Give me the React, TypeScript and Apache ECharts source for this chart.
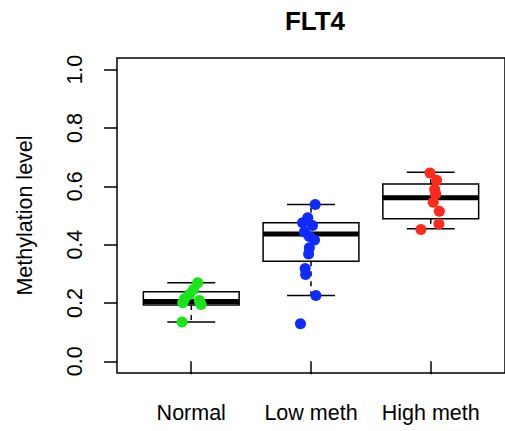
import React, { useEffect, useRef } from "react";
import * as echarts from "echarts";

const categories = ["Normal", "Low meth", "High meth"];
const yTicks = [0, 0.2, 0.4, 0.6, 0.8, 1.0];
const xTicks = [1, 2, 3];

// box statistics: lower whisker, Q1, median, Q3, upper whisker
const boxLow = [0.1346, 0.226, 0.4545];
const boxQ1 = [0.193, 0.3435, 0.4887];
const boxMedian = [0.2055, 0.437, 0.5606];
const boxQ3 = [0.2387, 0.475, 0.608];
const boxHigh = [0.2695, 0.5377, 0.648];

// individual samples and their horizontal jitter (category units)
const normalValues = [0.2695, 0.2466, 0.2295, 0.2158, 0.201, 0.2089, 0.1952, 0.1346];
const normalJitter = [0.054, 0.019, -0.016, -0.055, -0.071, 0.068, 0.082, -0.077];
const lowValues = [0.5377, 0.492, 0.475, 0.466, 0.4435, 0.428, 0.416, 0.389, 0.368, 0.318, 0.298, 0.226, 0.129];
const lowJitter = [0.035, -0.027, -0.07, 0.012, -0.055, -0.014, 0.029, -0.014, -0.02, -0.049, -0.045, 0.041, -0.088];
const highValues = [0.646, 0.621, 0.589, 0.574, 0.5455, 0.5147, 0.471, 0.452];
const highJitter = [-0.006, 0.049, 0.033, 0.041, 0.021, 0.072, 0.068, -0.082];

const groupColors = ["#19e619", "#0f2bff", "#ff2a1a"];
const FONT = "'Liberation Sans', Arial, Helvetica, sans-serif";

export default function App() {
  const ref = useRef<HTMLDivElement>(null);
  useEffect(() => {
    if (!ref.current) return;
    const chart = echarts.init(ref.current, null, { renderer: "svg" });
    const groups = [
      [normalValues, normalJitter],
      [lowValues, lowJitter],
      [highValues, highJitter],
    ];
    const scatterSeries = groups.map(([vals, jit], gi) => ({
      type: "scatter",
      name: categories[gi],
      symbol: "circle",
      symbolSize: 11,
      z: 5,
      itemStyle: { color: groupColors[gi], opacity: 1 },
      data: (vals as number[]).map((v, k) => [gi + 1 + (jit as number[])[k], v]),
    }));
    const boxData = categories.map((_, i) => [i + 1, boxLow[i], boxQ1[i], boxMedian[i], boxQ3[i], boxHigh[i]]);
    const option: any = {
      animation: false,
      textStyle: { fontFamily: FONT },
      grid: {
        left: 117,
        right: -7,
        top: 58,
        bottom: 58,
        show: true,
        borderColor: "#000",
        borderWidth: 1.5,
        backgroundColor: "transparent",
      },
      xAxis: {
        type: "value",
        min: 0.38,
        max: 3.62,
        splitLine: { show: false },
        axisLine: { show: false },
        axisTick: {
          show: true,
          customValues: xTicks,
          length: 13,
          inside: false,
          lineStyle: { color: "#000", width: 1.5 },
        },
        axisLabel: {
          customValues: xTicks,
          formatter: (v: number) => categories[Math.round(v) - 1],
          fontSize: 21.5,
          color: "#000",
          margin: 29,
          fontFamily: FONT,
        },
      },
      yAxis: {
        type: "value",
        min: -0.04,
        max: 1.04,
        splitLine: { show: false },
        axisLine: { show: false },
        axisTick: {
          show: true,
          customValues: yTicks,
          length: 13,
          inside: false,
          lineStyle: { color: "#000", width: 1.5 },
        },
        axisLabel: {
          customValues: yTicks,
          formatter: (v: number) => v.toFixed(1),
          rotate: 90,
          fontSize: 21.5,
          color: "#000",
          margin: 31,
          fontFamily: FONT,
        },
        name: "Methylation level",
        nameLocation: "middle",
        nameRotate: 90,
        nameGap: 81,
        nameTextStyle: { fontSize: 21.5, color: "#000", fontFamily: FONT },
      },
      graphic: [
        {
          type: "text",
          x: 315,
          y: 21,
          style: {
            text: "FLT4",
            font: `bold 26px ${FONT}`,
            fill: "#000",
            textAlign: "center",
            textVerticalAlign: "middle",
          },
        },
      ],
      series: [
        {
          type: "custom",
          z: 2,
          encode: { x: 0, y: [1, 2, 3, 4, 5] },
          data: boxData,
          renderItem: (params: any, api: any) => {
            const x = api.value(0);
            const lo = api.coord([x, api.value(1)]);
            const q1 = api.coord([x, api.value(2)]);
            const med = api.coord([x, api.value(3)]);
            const q3 = api.coord([x, api.value(4)]);
            const hi = api.coord([x, api.value(5)]);
            const halfW = api.coord([x + 0.4, 0])[0] - lo[0];
            const capHalf = halfW / 2;
            const cx = lo[0];
            const solid = { stroke: "#000", lineWidth: 1.5, fill: null };
            const dashed = { stroke: "#000", lineWidth: 1.5, lineDash: [5, 5], fill: null };
            return {
              type: "group",
              children: [
                { type: "line", shape: { x1: cx, y1: q3[1], x2: cx, y2: hi[1] }, style: dashed },
                { type: "line", shape: { x1: cx, y1: q1[1], x2: cx, y2: lo[1] }, style: dashed },
                { type: "line", shape: { x1: cx - capHalf, y1: hi[1], x2: cx + capHalf, y2: hi[1] }, style: solid },
                { type: "line", shape: { x1: cx - capHalf, y1: lo[1], x2: cx + capHalf, y2: lo[1] }, style: solid },
                {
                  type: "rect",
                  shape: { x: cx - halfW, y: q3[1], width: 2 * halfW, height: q1[1] - q3[1] },
                  style: { stroke: "#000", lineWidth: 1.5, fill: "#fff" },
                },
                {
                  type: "line",
                  shape: { x1: cx - halfW, y1: med[1], x2: cx + halfW, y2: med[1] },
                  style: { stroke: "#000", lineWidth: 5 },
                },
              ],
            };
          },
        },
        ...scatterSeries,
      ],
    };
    chart.setOption(option);
    return () => chart.dispose();
  }, []);
  return (
    <div
      ref={ref}
      style={{ position: "fixed", left: 0, top: 0, width: 505, height: 431, background: "#fff" }}
    />
  );
}
